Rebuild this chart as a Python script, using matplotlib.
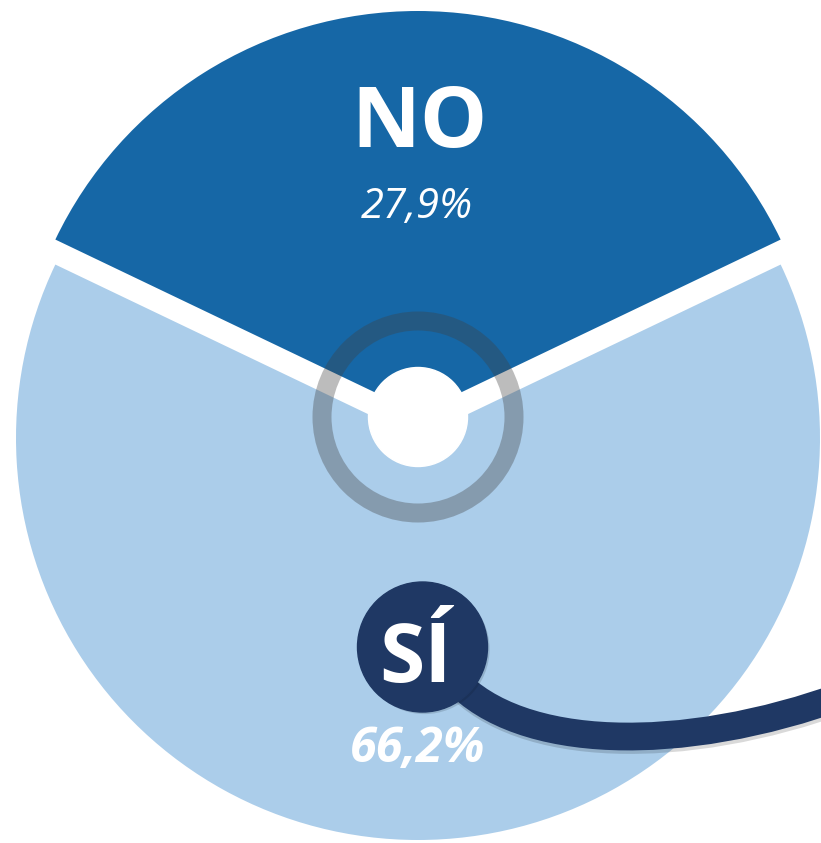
import matplotlib
matplotlib.use("Agg")
import matplotlib.pyplot as plt
import matplotlib.patches as mpatches
import matplotlib.patheffects as pe
from matplotlib.path import Path

W, H = 821, 843
DARK, LIGHT, NAVY = "#1667A6", "#ABCDEA", "#1F3864"
plt.rcParams["font.family"] = ["Open Sans", "DejaVu Sans"]

# data
labels = ["NO", "SÍ"]
pct = [27.9, 66.2]           # printed values
share = [35.8, 64.2]         # wedge sizes as drawn in the picture
explode = [4, 21]            # pixel offsets of the two wedges

def Y(py):
    return H - py

fig = plt.figure(figsize=(W / 100, H / 100), dpi=100)
ax = fig.add_axes([0, 0, 1, 1])

cx, cy, R = 418, Y(417), 402
start = 90 - share[0] * 3.6 / 2
ax.pie(share, colors=[DARK, LIGHT], explode=explode, startangle=start,
       radius=R, center=(cx, cy), wedgeprops=dict(linewidth=0))

# hole and translucent ring
ax.add_patch(mpatches.Circle((cx, cy), 49.5, color="white", zorder=3))
ax.add_patch(mpatches.Circle((cx, cy), 96, fill=False, lw=19 * 0.72,
                             edgecolor="#404040", alpha=0.35, zorder=4))

# connector curve to the SÍ badge
verts = [(455, Y(680)), (520, Y(750)), (680, Y(755)), (845, Y(695))]
path = Path(verts, [Path.MOVETO, Path.CURVE4, Path.CURVE4, Path.CURVE4])
ax.add_patch(mpatches.PathPatch(path, fill=False, lw=20, edgecolor=NAVY,
                                capstyle="butt", zorder=5,
                                path_effects=[pe.SimpleLineShadow(offset=(1, -2.5), alpha=0.15),
                                              pe.Normal()]))
ax.add_patch(mpatches.Circle((422.5, Y(647)), 65, color=NAVY, zorder=6,
                             path_effects=[pe.withSimplePatchShadow(offset=(1.5, -1.5), alpha=0.15)]))

# labels
fmt = lambda v: f"{v:.1f}".replace(".", ",") + "%"
ax.text(419.5, Y(147), labels[0], color="white", fontsize=61, fontweight="bold",
        ha="center", va="baseline", zorder=7)
ax.text(417, Y(218), fmt(pct[0]), color="white", fontsize=30, style="italic",
        ha="center", va="baseline", zorder=7)
ax.text(415, Y(682), labels[1], color="white", fontsize=59, fontweight="bold",
        ha="center", va="baseline", zorder=7)
ax.text(418, Y(762), fmt(pct[1]), color="white", fontsize=35, fontweight="bold",
        style="italic", ha="center", va="baseline", zorder=7)

ax.set_xlim(0, W)
ax.set_ylim(0, H)
ax.set_aspect("equal")
ax.axis("off")

fig.savefig("out.png", dpi=100, facecolor="white")
